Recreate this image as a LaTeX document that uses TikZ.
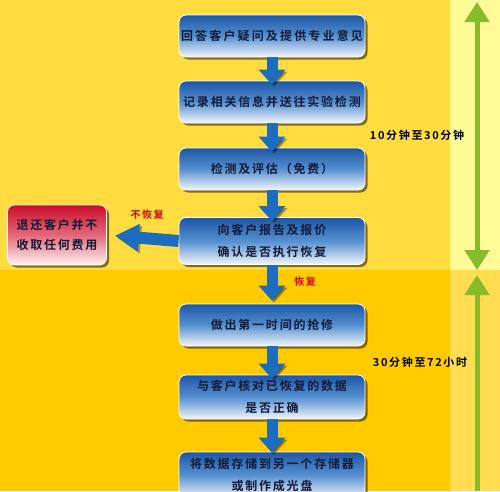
\documentclass[tikz,border=0pt]{standalone}
\usepackage{fontspec}
\usepackage{tikz}
\usetikzlibrary{arrows.meta,shadows}
\newfontfamily\cjk{Noto Sans CJK SC}[BoldFont={Noto Sans CJK SC Bold},LetterSpace=15]
\newfontfamily\cjkwide{Noto Sans CJK SC}[BoldFont={Noto Sans CJK SC Bold},LetterSpace=18]
\definecolor{bgtop}{HTML}{FFDC40}
\definecolor{bgbot}{HTML}{FFCA00}
\definecolor{striptop}{HTML}{FFFB96}
\definecolor{stripbot}{HTML}{FFDC50}
\definecolor{boxtop}{HTML}{1D56A4}
\definecolor{boxmid}{HTML}{5590D0}
\definecolor{boxbot}{HTML}{F2F6FB}
\definecolor{navy}{HTML}{141A38}
\definecolor{flowblue}{HTML}{1C6DBE}
\definecolor{timegreen}{HTML}{86BC2C}
\definecolor{redtop}{HTML}{CC0C2A}
\definecolor{redmid}{HTML}{E4687A}
\definecolor{redbot}{HTML}{FDF2F4}
\tikzset{
  stepbox/.style = {draw=white, line width=0.8pt, rounded corners=7pt,
    top color=boxtop, bottom color=boxbot, middle color=boxmid,
    drop shadow={shadow xshift=2.5pt, shadow yshift=-2.5pt, fill=black,
      opacity=.5},
    text=navy, align=center, inner sep=0pt,
    font=\fontsize{12}{22}\selectfont\cjk\bfseries,
    minimum width=186pt, minimum height=42pt},% blue step of the service
  refusebox/.style = {stepbox, top color=redtop, bottom color=redbot,
    middle color=redmid, minimum width=99pt, minimum height=60pt,
    text=navy, font=\fontsize{12}{20}\selectfont\cjk\bfseries},% red end box
  flow/.style = {draw=flowblue, line width=11pt,
    -{Triangle[width=26pt,length=15pt]},
    preaction={draw=black, opacity=.35,
      transform canvas={xshift=2pt,yshift=-2pt}}},% blue arrow
  sideflow/.style = {flow, line width=12pt,
    -{Triangle[width=26pt,length=24pt]}},
  choice/.style = {text=red!85!black, font=\fontsize{10}{10}\selectfont\cjk\bfseries},
  timelabel/.style = {text=black, font=\fontsize{11}{11}\selectfont\cjk\bfseries},
  timespan/.style = {draw=timegreen, line width=5pt}
}
\begin{document}
\begin{tikzpicture}[x=1pt,y=-1pt]
\useasboundingbox (0,0) rectangle (500,491);
% background bands
\fill[bgtop] (0,0) rectangle (450,270);
\fill[bgbot] (0,270) rectangle (450,491);
\fill[striptop] (450,0) rectangle (500,270);
\fill[stripbot] (450,270) rectangle (500,491);

\node[stepbox] (b1) at (272,36)
  {\cjkwide\bfseries 回答客户疑问及提供专业意见};
\node[stepbox] (b2) at (272,102) {记录相关信息并送往实验检测};
\node[stepbox] (b3) at (272,169) {检测及评估（免费）};
\node[stepbox, minimum height=47pt] (b4) at (272,241)
  {向客户报告及报价\\确认是否执行恢复};
\node[stepbox] (b5) at (272,325) {做出第一时间的抢修};
\node[stepbox, minimum height=44pt] (b6) at (272,397)
  {与客户核对已恢复的数据\\是否正确};
\node[stepbox, minimum height=46pt] (b7) at (272,475)
  {将数据存储到另一个存储器\\或制作成光盘};
\node[refusebox] (r) at (57,235) {退还客户并不\\收取任何费用};

% arrows between the steps
\foreach \a/\b in {b1/b2, b2/b3, b3/b4, b5/b6}
  \draw[flow, shorten >=-4pt] (\a.south) -- (\b.north);
\draw[flow, shorten >=3pt] (b4.south) -- (b5.north);
\draw[flow, shorten >=-1pt] (b6.south) -- (b7.north);
\draw[sideflow, shorten >=8pt] (b4.west) -- (r.east);

\node[choice] (no) at (147,215) {不恢复};
\node[choice] (yes) at (305,282) {恢复};

\node[timelabel] (t1) at (417,135) {10分钟至30分钟};
\node[timelabel] (t2) at (420,362) {30分钟至72小时};

% time spans on the right
\coordinate (g1) at (477,2);
\coordinate (g2) at (477,270);
\coordinate (g3) at (477,275);
\coordinate (g4) at (477,491);
\draw[timespan, {Triangle[width=24pt,length=20pt]}-{Triangle[width=24pt,length=20pt]}] (g1) -- (g2);
\draw[timespan, {Triangle[width=24pt,length=20pt]}-] (g3) -- (g4);
\end{tikzpicture}
\end{document}
